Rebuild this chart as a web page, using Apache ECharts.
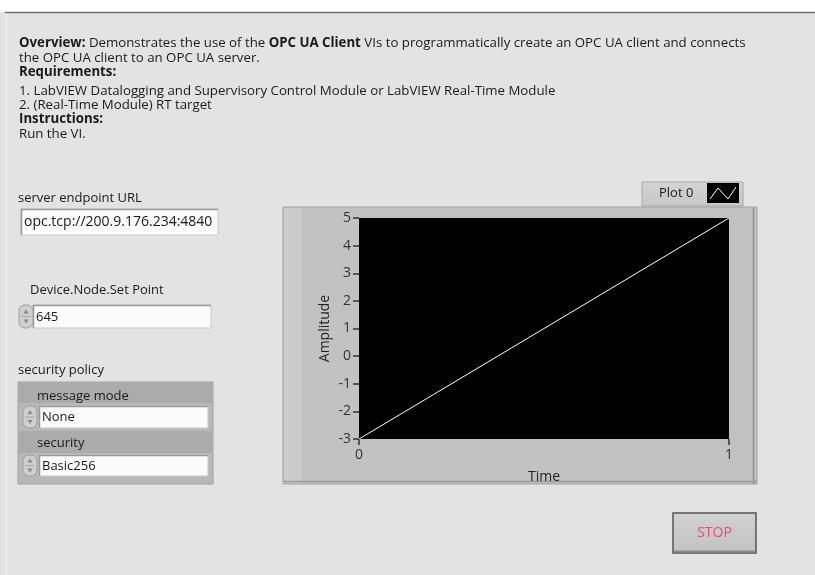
<!DOCTYPE html>
<html>
<head>
<meta charset="utf-8">
<script src="https://cdn.jsdelivr.net/npm/echarts@6/dist/echarts.min.js"></script>
<style>
html,body{margin:0;padding:0;background:#e3e3e3;}
#chart{width:815px;height:575px;}
</style>
</head>
<body>
<div id="chart"></div>
<script>
// ---- data ----
const timeValues = [0, 1];
const amplitudeValues = [-3, 5];
const yMin = -3, yMax = 5, yStep = 1;
const xMin = 0, xMax = 1, xStep = 1;
const plotName = 'Plot 0';
const xAxisName = 'Time';
const yAxisName = 'Amplitude';

const serverUrl = 'opc.tcp://200.9.176.234:4840';
const setPointValue = '645';
const messageMode = 'None';
const securityValue = 'Basic256';

const FONT = '"Open Sans", "Noto Sans", sans-serif';
const TXT = '#1a1a1a';

const chart = echarts.init(document.getElementById('chart'), null, {renderer: 'canvas'});

function txt(x, y, text, opts) {
  return {
    type: 'text', x: x, y: y, z: 5,
    style: Object.assign({text: text, fill: TXT, font: '13px ' + FONT, textVerticalAlign: 'middle'}, opts || {})
  };
}
function box(x, y, w, h) {
  return [
    {type: 'rect', z: 2, shape: {x: x, y: y, width: w, height: h}, style: {fill: '#fbfbfb', stroke: '#c9c9c9', lineWidth: 1}},
    {type: 'polyline', z: 3, shape: {points: [[x + 0.5, y + h], [x + 0.5, y + 0.5], [x + w, y + 0.5]]}, style: {stroke: '#9a9a9a', lineWidth: 1.5, fill: null}}
  ];
}
function spinner(x, y, w, h) {
  const cx = x + w / 2;
  return [
    {type: 'rect', z: 3, shape: {x: x, y: y, width: w, height: h, r: 6}, style: {fill: '#cfcfcf', stroke: '#9c9c9c', lineWidth: 1}},
    {type: 'line', z: 4, shape: {x1: x + 2, y1: y + h / 2, x2: x + w - 2, y2: y + h / 2}, style: {stroke: '#a8a8a8', lineWidth: 1}},
    {type: 'polygon', z: 4, shape: {points: [[cx - 2.5, y + h / 2 - 3], [cx + 2.5, y + h / 2 - 3], [cx, y + h / 2 - 7]]}, style: {fill: '#8a8a8a'}},
    {type: 'polygon', z: 4, shape: {points: [[cx - 2.5, y + h / 2 + 3], [cx + 2.5, y + h / 2 + 3], [cx, y + h / 2 + 7]]}, style: {fill: '#8a8a8a'}}
  ];
}

const lineY = [43, 58, 72, 91, 105, 119, 134];
const DFS = 13.25;
const boldStyle = {fontWeight: 'bold', fontFamily: FONT, fontSize: DFS, fill: TXT};
const normStyle = {fontFamily: FONT, fontSize: DFS, fill: TXT};
function rich(x, y, text) {
  return {type: 'text', x: x, y: y, z: 5, style: {text: text, font: DFS + 'px ' + FONT, fill: TXT, textVerticalAlign: 'middle', rich: {b: boldStyle, n: normStyle}}};
}

const graphics = [
  // top white band and separator line
  {type: 'rect', z: 1, shape: {x: 0, y: 0, width: 815, height: 12}, style: {fill: '#ffffff'}},
  {type: 'line', z: 2, shape: {x1: 5, y1: 12.5, x2: 815, y2: 12.5}, style: {stroke: '#6c6c6c', lineWidth: 1.5}},
  {type: 'line', z: 2, shape: {x1: 6.5, y1: 13, x2: 6.5, y2: 575}, style: {stroke: '#eeeeee', lineWidth: 1}},

  // description text
  rich(19, lineY[0], '{b|Overview:}{n| Demonstrates the use of the }{b|OPC UA Client}{n| VIs to programmatically create an OPC UA client and connects}'),
  rich(19, lineY[1], '{n|the OPC UA client to an OPC UA server.}'),
  rich(19, lineY[2], '{b|Requirements:}'),
  rich(19, lineY[3], '{n|1. LabVIEW Datalogging and Supervisory Control Module or LabVIEW Real-Time Module}'),
  rich(19, lineY[4], '{n|2. (Real-Time Module) RT target}'),
  rich(19, lineY[5], '{b|Instructions:}'),
  rich(19, lineY[6], '{n|Run the VI.}'),

  // server endpoint URL
  txt(18, 198, 'server endpoint URL'),
  ...box(21, 209, 197, 26),
  txt(24, 222, serverUrl, {font: '14px ' + FONT}),

  // Device.Node.Set Point
  txt(30, 290, 'Device.Node.Set Point'),
  ...box(33, 305, 178, 23),
  ...spinner(19, 305, 14, 23),
  txt(36, 317, setPointValue),

  // security policy cluster
  txt(18, 370, 'security policy'),
  {type: 'rect', z: 1, shape: {x: 18, y: 382, width: 195, height: 102}, style: {fill: '#b8b8b8', stroke: '#a2a2a2', lineWidth: 1}},
  {type: 'rect', z: 1, shape: {x: 19, y: 383, width: 193, height: 20}, style: {fill: '#ababab'}},
  {type: 'rect', z: 1, shape: {x: 19, y: 431, width: 193, height: 22}, style: {fill: '#ababab'}},
  txt(37, 396, 'message mode'),
  ...box(39, 406, 169, 22),
  ...spinner(23, 406, 14, 22),
  txt(42, 417, messageMode),
  txt(37, 443, 'security'),
  ...box(39, 455, 169, 21),
  ...spinner(23, 455, 14, 21),
  txt(42, 466, securityValue),

  // graph frame
  {type: 'rect', z: -2, shape: {x: 283, y: 207, width: 474, height: 277}, style: {fill: '#c2c2c2', stroke: '#a0a0a0', lineWidth: 1}},
  {type: 'rect', z: -2, shape: {x: 284, y: 208, width: 18, height: 275}, style: {fill: '#cbcbcb'}},
  {type: 'line', z: -1, shape: {x1: 753.5, y1: 208, x2: 753.5, y2: 484}, style: {stroke: '#8e8e8e', lineWidth: 1.5}},
  {type: 'line', z: -1, shape: {x1: 284, y1: 481.5, x2: 757, y2: 481.5}, style: {stroke: '#9a9a9a', lineWidth: 1.5}},

  // legend
  {type: 'rect', z: 1, shape: {x: 642, y: 182, width: 101, height: 24},
    style: {fill: new echarts.graphic.LinearGradient(0, 0, 0, 1, [{offset: 0, color: '#d4d4d4'}, {offset: 1, color: '#c6c6c6'}]), stroke: '#a8a8a8', lineWidth: 1}},
  txt(659, 193, plotName),
  {type: 'rect', z: 2, shape: {x: 707, y: 183, width: 32, height: 20}, style: {fill: '#000000'}},
  {type: 'polyline', z: 3, shape: {points: [[710, 199], [718, 188], [728, 199], [736, 187]]}, style: {stroke: '#ffffff', lineWidth: 1, fill: null}},

  // STOP button
  {type: 'rect', z: 1, shape: {x: 673, y: 513, width: 83, height: 40},
    style: {fill: new echarts.graphic.LinearGradient(0, 0, 0, 1, [{offset: 0, color: '#d2d2d2'}, {offset: 1, color: '#c2c2c2'}]), stroke: '#555555', lineWidth: 1.5}},
  {type: 'line', z: 2, shape: {x1: 674, y1: 551.5, x2: 755, y2: 551.5}, style: {stroke: '#8a8a8a', lineWidth: 2}},
  {type: 'text', z: 5, x: 714.5, y: 533, style: {text: 'STOP', fill: '#e4506a', font: '14px ' + FONT, textAlign: 'center', textVerticalAlign: 'middle'}}
];

const option = {
  backgroundColor: '#e3e3e3',
  animation: false,
  grid: {left: 359, top: 218, width: 370, height: 221, show: true, backgroundColor: '#000000', borderWidth: 0, containLabel: false},
  xAxis: {
    type: 'value', min: xMin, max: xMax, interval: xStep, position: 'bottom',
    name: xAxisName, nameLocation: 'middle', nameGap: 31,
    nameTextStyle: {color: '#222', fontSize: 14, fontFamily: FONT},
    axisLine: {show: false, onZero: false},
    axisTick: {show: true, inside: false, length: 6, lineStyle: {color: '#333', width: 1.5}},
    axisLabel: {color: '#333', fontSize: 14, fontFamily: FONT, margin: 9},
    splitLine: {show: false}
  },
  yAxis: {
    type: 'value', min: yMin, max: yMax, interval: yStep, position: 'left',
    name: yAxisName, nameLocation: 'middle', nameGap: 27,
    nameTextStyle: {color: '#222', fontSize: 14, fontFamily: FONT},
    axisLine: {show: false, onZero: false},
    axisTick: {show: true, inside: false, length: 6, lineStyle: {color: '#333', width: 1.5}},
    axisLabel: {color: '#333', fontSize: 14, fontFamily: FONT, margin: 8},
    splitLine: {show: false}
  },
  series: [{
    name: plotName, type: 'line',
    data: timeValues.map((t, i) => [t, amplitudeValues[i]]),
    symbol: 'none', lineStyle: {color: '#ffffff', width: 1}
  }],
  graphic: graphics
};
chart.setOption(option);
</script>
</body>
</html>
